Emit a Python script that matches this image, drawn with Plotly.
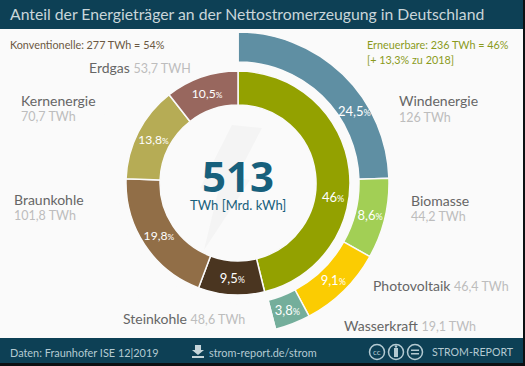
import plotly.graph_objects as go

W, H = 525, 366
CX, CY = 238, 183

# ---- data ----
renew_names = ["Windenergie", "Biomasse", "Photovoltaik", "Wasserkraft"]
renew_twh = ["126 TWh", "44,2 TWh", "46,4 TWh", "19,1 TWh"]
renew_pct = [24.5, 8.6, 9.1, 3.8]
renew_labels = ["", "8,6", "9,1", "3,8"]
renew_colors = ["#5f8fa3", "#a2cf55", "#fbcc02", "#74ae9b"]
conv_share = 54.0

inner_names = ["Erneuerbare", "Steinkohle", "Braunkohle", "Kernenergie", "Erdgas"]
inner_twh = ["236 TWh", "48,6 TWh", "101,8 TWh", "70,7 TWh", "53,7 TWH"]
inner_pct = [46, 9.5, 19.8, 13.8, 10.5]
inner_labels = ["", "9,5", "19,8", "13,8", "10,5"]
inner_colors = ["#93a100", "#4a3520", "#916e47", "#b6ac55", "#98675e"]

TITLE = "Anteil der Energieträger an der Nettostromerzeugung in Deutschland"
TOTAL = "513"

FONT = "Lato"
NAVY = "#0d4055"
BLACK = "#0c1013"
GREY = "#666666"
LGREY = "#bdbdbd"
ICON = "#b4cad2"


def X(px):
    return px / W


def Y(py):
    return 1 - py / H


def dom(r):
    return dict(x=[X(CX - r), X(CX + r)], y=[Y(CY + r), Y(CY - r)])


def pct_text(s):
    return f'{s}<span style="font-size:9px">%</span>' if s else ""


fig = go.Figure()

fig.add_trace(go.Pie(
    values=renew_pct + [conv_share],
    labels=renew_names + ["Konventionelle"],
    text=[pct_text(s) for s in renew_labels] + [""],
    textinfo="text",
    textposition="inside",
    insidetextorientation="horizontal",
    textfont=dict(family=FONT, size=13, color="white"),
    marker=dict(colors=renew_colors + ["rgba(0,0,0,0)"],
                line=dict(color="#fafafa", width=1.5)),
    hole=121 / 151, sort=False, direction="clockwise", rotation=0,
    domain=dom(151), showlegend=False, hoverinfo="label+percent",
))
fig.add_trace(go.Pie(
    values=inner_pct,
    labels=inner_names,
    text=[pct_text(s) for s in inner_labels],
    textinfo="text",
    textposition="inside",
    insidetextorientation="horizontal",
    textfont=dict(family=FONT, size=13, color="white"),
    marker=dict(colors=inner_colors, line=dict(color="#fafafa", width=1.5)),
    hole=78 / 112, sort=False, direction="clockwise", rotation=0,
    domain=dom(112), showlegend=False, hoverinfo="label+percent",
))


def rect(x0, y0, x1, y1, color):
    return dict(type="rect", xref="paper", yref="paper", layer="below",
                x0=X(x0), x1=X(x1), y0=Y(y1), y1=Y(y0),
                fillcolor=color, line_width=0)


def circle(x, y, r, line=ICON, fill="rgba(0,0,0,0)", w=1.5):
    return dict(type="circle", xref="paper", yref="paper", layer="above",
                x0=X(x - r), x1=X(x + r), y0=Y(y + r), y1=Y(y - r),
                fillcolor=fill, line=dict(color=line, width=w))


def path(points, fill, layer="above"):
    d = "M " + " L ".join(f"{X(a):.4f},{Y(b):.4f}" for a, b in points) + " Z"
    return dict(type="path", xref="paper", yref="paper", layer=layer, path=d,
                fillcolor=fill, line_width=0)


shapes = [
    rect(0, 29, 523, 338, "#fafafa"),
    rect(0, 0, 523, 29, NAVY),
    rect(0, 338, 523, 363, NAVY),
    # faint bolt
    path([(232, 125), (262, 128), (236, 178), (250, 180), (204, 250),
          (218, 192), (200, 188)], "#f4f4f4"),
    # download icon
    path([(195, 345), (201, 345), (201, 350), (204, 350), (198, 355), (192, 350), (195, 350)], "#c5d5da"),
    path([(192, 356), (204, 356), (204, 358), (192, 358)], "#c5d5da"),
    # licence icons
    circle(377, 352, 7.5), circle(396, 352, 7.5), circle(415, 352, 7.5),
    path([(394, 348), (398, 348), (398, 357), (394, 357)], ICON),
    circle(396, 346.5, 1.2, fill=ICON, w=0),
    path([(411, 349.5), (419, 349.5), (419, 351), (411, 351)], ICON),
    path([(411, 353), (419, 353), (419, 354.5), (411, 354.5)], ICON),
]


def note(x, y, text, size, color, anchor="left", family=FONT, height=None):
    if anchor == "left":
        x -= 2
    a = dict(xref="paper", yref="paper", x=X(x), y=Y(y), text=text,
             showarrow=False, xanchor=anchor, yanchor="middle", align=anchor,
             font=dict(family=family, size=size, color=color))
    if height:
        a["height"] = height
    return a


def label(x, y, name, twh, inline=False):
    if inline:
        txt = (f'<span style="color:{GREY}">{name}</span> '
               f'<span style="color:{LGREY};font-size:12.5px">{twh}</span>')
        return [note(x, y, txt, 14, GREY)]
    return [note(x, y, name, 14, GREY), note(x, y + 16, twh, 12.5, LGREY)]


ann = [
    note(10, 13, TITLE, 15.75, "#c9d6da"),
    note(10, 44, "Konventionelle: 277 TWh = 54%", 10.8, "#6b5842"),
    note(367, 44, "Erneuerbare: 236 TWh = 46%", 10.8, "#8a9a1c"),
    note(367, 59, "[+ 13,3% zu 2018]", 10.8, "#8a9a1c"),
    note(CX, 175, f"<b>{TOTAL}</b>", 42, "#17607c", "center", "Noto Sans", height=38),
    note(CX, 205, "TWh [Mrd. kWh]", 13, "#17607c", "center"),
    note(333, 197, pct_text("46"), 13, "white", "center"),
    note(354, 111, pct_text("24,5"), 13, "white", "center"),
    note(10, 352, "Daten: Fraunhofer ISE 12|2019", 10.9, ICON),
    note(209, 352, "strom-report.de/strom", 10.9, ICON),
    note(432, 352, "STROM-REPORT", 10.6, ICON),
    note(377, 352, "cc", 8, ICON, "center"),
]
ann += label(89, 67, inner_names[4], inner_twh[4], inline=True)
ann += label(21, 100, inner_names[3], inner_twh[3])
ann += label(14, 199, inner_names[2], inner_twh[2])
ann += label(123, 318, inner_names[1], inner_twh[1], inline=True)
ann += label(399, 101, renew_names[0], renew_twh[0])
ann += label(411, 200, renew_names[1], renew_twh[1])
ann += label(373, 285, renew_names[2], renew_twh[2], inline=True)
ann += label(344, 325, renew_names[3], renew_twh[3], inline=True)

fig.update_layout(
    width=W, height=H, autosize=False,
    margin=dict(l=0, r=0, t=0, b=0),
    paper_bgcolor=BLACK, plot_bgcolor="rgba(0,0,0,0)",
    shapes=shapes, annotations=ann, showlegend=False,
)
fig.write_html("out.html", config=dict(displayModeBar=False),
               post_script="document.body.style.margin='0';document.body.style.overflow='hidden';")
